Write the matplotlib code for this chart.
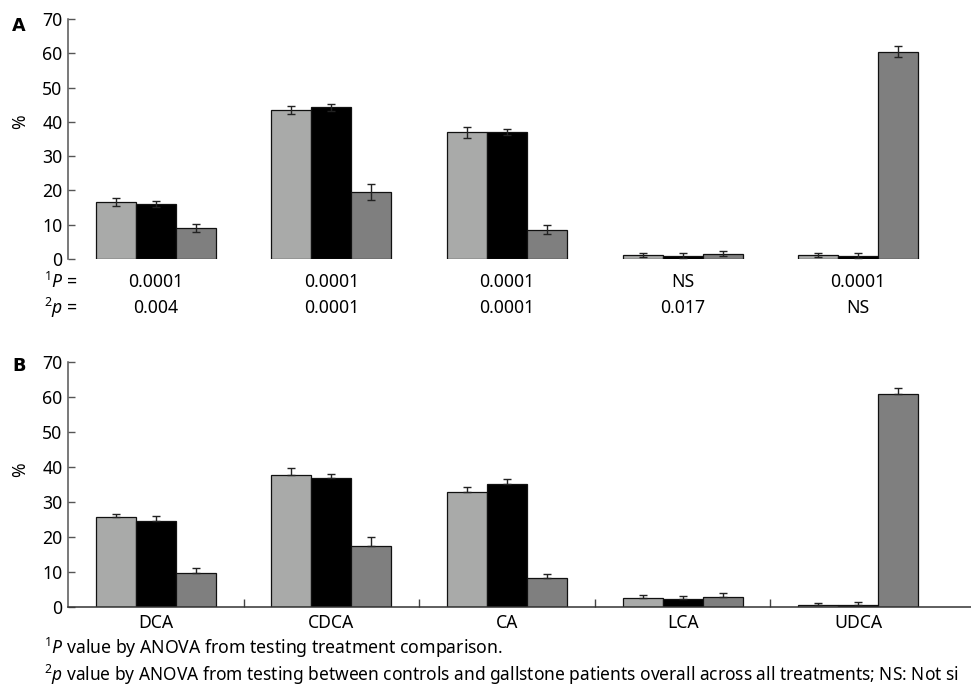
import matplotlib
matplotlib.use("Agg")
import matplotlib.pyplot as plt
import matplotlib.transforms as mtransforms
import numpy as np

plt.rcParams['font.family'] = ['Noto Sans', 'DejaVu Sans']
plt.rcParams['mathtext.fontset'] = 'custom'
plt.rcParams['mathtext.rm'] = 'Noto Sans'
plt.rcParams['mathtext.it'] = 'Noto Sans:italic'

categories = ["DCA", "CDCA", "CA", "LCA", "UDCA"]

# Panel A
a_s1 = [16.6, 43.5, 37.0, 1.1, 1.1]
a_s2 = [16.0, 44.2, 37.0, 1.0, 1.0]
a_s3 = [9.0, 19.5, 8.5, 1.6, 60.5]
a_e1 = [1.1, 1.2, 1.6, 0.6, 0.6]
a_e2 = [0.8, 1.1, 0.9, 0.7, 0.8]
a_e3 = [1.1, 2.3, 1.3, 0.7, 1.5]
p1_vals = ["0.0001", "0.0001", "0.0001", "NS", "0.0001"]
p2_vals = ["0.004", "0.0001", "0.0001", "0.017", "NS"]

# Panel B
b_s1 = [25.6, 37.7, 33.0, 2.5, 0.6]
b_s2 = [24.7, 36.8, 35.1, 2.2, 0.5]
b_s3 = [9.8, 17.5, 8.3, 3.0, 61.0]
b_e1 = [1.1, 1.9, 1.4, 1.0, 0.6]
b_e2 = [1.3, 1.3, 1.6, 0.9, 0.8]
b_e3 = [1.3, 2.5, 1.1, 1.1, 1.7]

yticks = [0, 10, 20, 30, 40, 50, 60, 70]

colors = ["#a9aaa9", "#000000", "#7f7f7f"]
W, H = 971, 686
fig = plt.figure(figsize=(W / 100, H / 100), dpi=100)

FS = 12.7
left = 68 / W
xmax = (W - 68) / 175.6 - 0.5
axA = fig.add_axes([left, (H - 259) / H, 1 - left, 240 / H])
axB = fig.add_axes([left, (H - 607) / H, 1 - left, 245 / H])

bw = 0.228
x = np.arange(len(categories))


def draw(ax, s_list, e_list, two_sided):
    for k, (s, e) in enumerate(zip(s_list, e_list)):
        pos = x + (k - 1) * bw
        ax.bar(pos, s, width=bw, color=colors[k], edgecolor="#111111",
               linewidth=0.9, zorder=2)
        if two_sided:
            yerr = e
        else:
            yerr = [np.zeros(len(e)), e]
        ax.errorbar(pos, s, yerr=yerr, fmt="none", ecolor="#222222",
                    elinewidth=1.0, capsize=2.6, capthick=1.0, zorder=3)
    ax.set_xlim(-0.5, xmax)
    ax.set_ylim(0, 70)
    ax.set_yticks(yticks)
    ax.tick_params(axis="y", direction="in", length=5, width=1,
                   color="#555555", labelsize=FS, pad=4)
    for sp in ["top", "right"]:
        ax.spines[sp].set_visible(False)
    ax.spines["left"].set_color("#555555")
    ax.spines["left"].set_linewidth(1.1)


draw(axA, [a_s1, a_s2, a_s3], [a_e1, a_e2, a_e3], True)
draw(axB, [b_s1, b_s2, b_s3], [b_e1, b_e2, b_e3], False)

# Panel A: no x axis
axA.spines["bottom"].set_visible(False)
axA.set_xticks([])

# Panel B: category labels and inward boundary ticks
axB.set_xticks(x)
axB.set_xticklabels(categories, fontsize=FS)
axB.tick_params(axis="x", which="major", length=0, pad=5)
axB.set_xticks(x[:-1] + 0.5, minor=True)
axB.tick_params(axis="x", which="minor", direction="in", length=6, width=1,
                color="#444444")
axB.spines["bottom"].set_color("#333333")
axB.spines["bottom"].set_linewidth(1.1)

# y labels
fig.text(20 / W, 1 - 122 / H, "%", rotation=90, ha="center", va="center", fontsize=FS)
fig.text(20 / W, 1 - 470 / H, "%", rotation=90, ha="center", va="center", fontsize=FS)

# panel letters
fig.text(12 / W, 1 - 26 / H, "A", fontsize=FS, fontweight="bold",
         family="DejaVu Sans", ha="left", va="center")
fig.text(12 / W, 1 - 366 / H, "B", fontsize=FS, fontweight="bold",
         family="DejaVu Sans", ha="left", va="center")

# p-value rows
trans = mtransforms.blended_transform_factory(axA.transData, fig.transFigure)
fig.text(44 / W, 1 - 282 / H, r"$^{1}\mathit{P}$ =", fontsize=FS, ha="left", va="center")
fig.text(44 / W, 1 - 308 / H, r"$^{2}\mathit{p}$ =", fontsize=FS, ha="left", va="center")
for i, (p1, p2) in enumerate(zip(p1_vals, p2_vals)):
    axA.text(x[i], 1 - 282 / H, p1, transform=trans, ha="center", va="center", fontsize=FS)
    axA.text(x[i], 1 - 308 / H, p2, transform=trans, ha="center", va="center", fontsize=FS)

# footnotes
fig.text(44 / W, 1 - 648 / H,
         r"$^{1}\mathit{P}$ value by ANOVA from testing treatment comparison.",
         fontsize=FS, ha="left", va="center")
fig.text(44 / W, 1 - 675 / H,
         r"$^{2}\mathit{p}$ value by ANOVA from testing between controls and gallstone patients overall across all treatments; NS: Not si",
         fontsize=12.5, ha="left", va="center")

fig.savefig("out.png", dpi=100)
